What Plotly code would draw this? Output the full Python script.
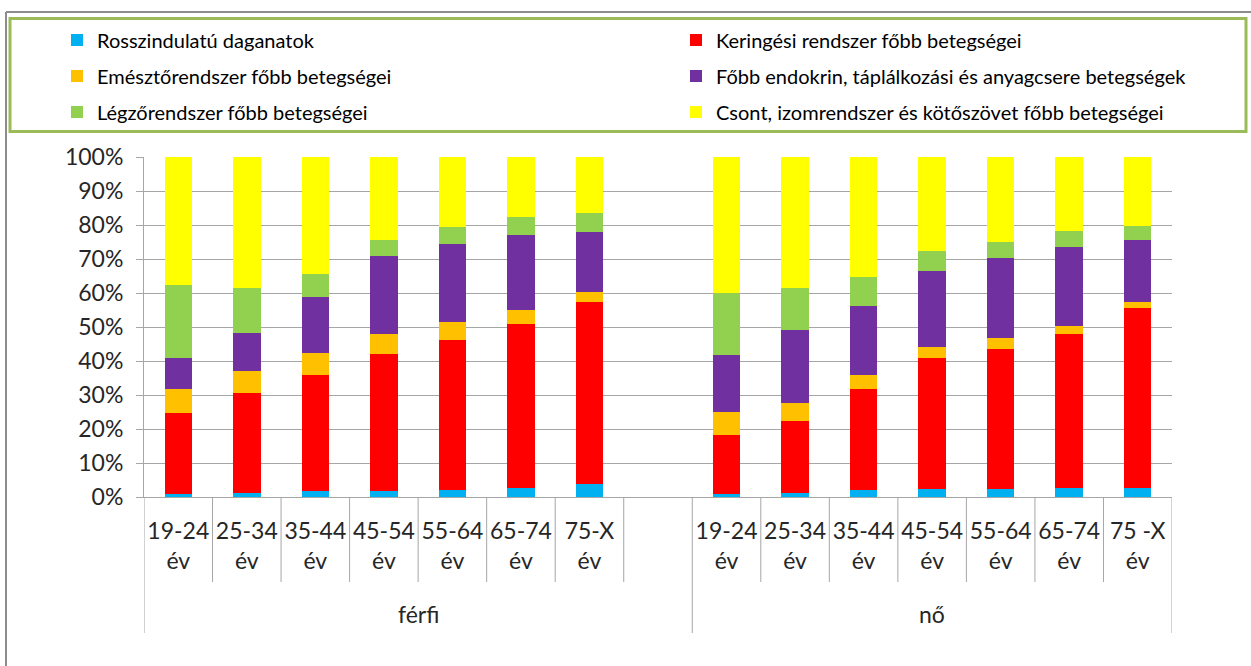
import plotly.graph_objects as go

# ---------------- data ----------------
age_labels_m = ["19-24<br>év", "25-34<br>év", "35-44<br>év", "45-54<br>év",
                "55-64<br>év", "65-74<br>év", "75-X<br>év"]
age_labels_f = ["19-24<br>év", "25-34<br>év", "35-44<br>év", "45-54<br>év",
                "55-64<br>év", "65-74<br>év", "75 -X<br>év"]
groups = ["férfi", "nő"]

series_names = [
    "Rosszindulatú daganatok",
    "Keringési rendszer főbb betegségei",
    "Emésztőrendszer főbb betegségei",
    "Főbb endokrin, táplálkozási és anyagcsere betegségek",
    "Légzőrendszer főbb betegségei",
    "Csont, izomrendszer és kötőszövet főbb betegségei",
]
series_colors = ["#00B0F0", "#FF0000", "#FFC000", "#7030A0", "#92D050", "#FFFF00"]

# percent shares, férfi (7 age groups)
men_daganat  = [0.8, 1.3, 1.7, 1.7, 2.0, 2.7, 3.9]
men_kering   = [23.8, 29.3, 34.2, 40.3, 44.1, 48.3, 53.4]
men_emeszto  = [7.1, 6.5, 6.4, 5.9, 5.3, 4.1, 3.1]
men_endokrin = [9.1, 11.2, 16.6, 23.0, 23.0, 21.9, 17.4]
men_legzo    = [21.5, 13.2, 6.8, 4.6, 4.9, 5.3, 5.7]
men_csont    = [37.7, 38.5, 34.3, 24.5, 20.7, 17.7, 16.5]

# percent shares, nő (7 age groups)
women_daganat  = [0.8, 1.3, 2.0, 2.3, 2.3, 2.7, 2.7]
women_kering   = [17.4, 21.0, 29.8, 38.5, 41.1, 45.2, 52.8]
women_emeszto  = [6.8, 5.3, 4.1, 3.3, 3.4, 2.3, 1.8]
women_endokrin = [16.9, 21.5, 20.4, 22.3, 23.4, 23.4, 18.2]
women_legzo    = [18.0, 12.4, 8.3, 6.1, 4.9, 4.6, 4.1]
women_csont    = [40.1, 38.5, 35.4, 27.5, 24.9, 21.8, 20.4]

y_tick_step = 10

# ---------------- layout helpers ----------------
W, H = 1251, 666
PL, PR, PT, PB = 144, 1172, 157, 497   # plot area in px


def px_x(p):
    return (p - PL) / (PR - PL)


def px_y(p):
    return (PB - p) / (PB - PT)


# category positions: 7 férfi + 1 empty slot + 7 nő
men_x = list(range(len(age_labels_m)))
gap_slot = len(age_labels_m)
women_x = [gap_slot + 1 + i for i in range(len(age_labels_f))]
tick_vals = men_x + [gap_slot] + women_x
tick_text = age_labels_m + [""] + age_labels_f

men_series = [men_daganat, men_kering, men_emeszto, men_endokrin, men_legzo, men_csont]
women_series = [women_daganat, women_kering, women_emeszto, women_endokrin, women_legzo, women_csont]

FONT = "Lato"
TXT = "#262626"
GRID = "#A6A6A6"

fig = go.Figure()
for k, name in enumerate(series_names):
    legend_id = "legend" if k % 2 == 0 else "legend2"
    fig.add_trace(go.Bar(
        x=men_x + women_x,
        y=men_series[k] + women_series[k],
        name=name,
        marker=dict(color=series_colors[k], line=dict(width=0)),
        width=0.4,
        legend=legend_id,
        legendgroup=name,
        hovertemplate="%{y:.1f}%<extra>" + name + "</extra>",
    ))

n_slots = len(tick_vals)
legend_common = dict(
    xanchor="left", yanchor="top",
    orientation="v", traceorder="grouped", tracegroupgap=7,
    font=dict(family=FONT, size=20, color="#000000"),
    bgcolor="rgba(0,0,0,0)", borderwidth=0,
)
fig.update_layout(
    width=W, height=H,
    barmode="stack",
    plot_bgcolor="white", paper_bgcolor="white",
    margin=dict(l=PL, r=W - PR, t=PT, b=H - PB, autoexpand=False),
    font=dict(family=FONT, color=TXT),
    xaxis=dict(
        range=[-0.5, n_slots - 0.5],
        tickmode="array", tickvals=tick_vals, ticktext=tick_text,
        ticks="", showgrid=False, zeroline=False,
        showline=True, linecolor=GRID, linewidth=1,
        tickfont=dict(family=FONT, size=23, color=TXT),
        ticklabelstandoff=13,
        fixedrange=True,
    ),
    yaxis=dict(
        range=[0, 100], tickmode="linear", tick0=0, dtick=y_tick_step,
        ticksuffix="%", showgrid=True, gridcolor=GRID, gridwidth=1,
        zeroline=False, showline=True, linecolor=GRID, linewidth=1,
        ticks="outside", ticklen=7, tickcolor=GRID,
        tickfont=dict(family=FONT, size=23, color=TXT),
        ticklabelstandoff=8,
        fixedrange=True,
    ),
    legend=dict(x=px_x(57), y=px_y(20.5), **legend_common),
    legend2=dict(x=px_x(676), y=px_y(20.5), **legend_common),
    showlegend=True,
)

shapes = []
# outer gray frame (top and left edges visible)
shapes.append(dict(type="line", xref="paper", yref="paper",
                   x0=px_x(6), x1=px_x(W + 5), y0=px_y(12), y1=px_y(12),
                   line=dict(color="#8C8C8C", width=2)))
shapes.append(dict(type="line", xref="paper", yref="paper",
                   x0=px_x(6), x1=px_x(6), y0=px_y(12), y1=px_y(H + 5),
                   line=dict(color="#8C8C8C", width=2)))
# green legend box
shapes.append(dict(type="rect", xref="paper", yref="paper",
                   x0=px_x(10), x1=px_x(1246), y0=px_y(18.5), y1=px_y(131.5),
                   line=dict(color="#9BBB59", width=3), fillcolor="rgba(0,0,0,0)"))
# category separators
long_bounds = {-0.5, gap_slot + 0.5, n_slots - 0.5}
for i in range(n_slots + 1):
    b = i - 0.5
    y_end = 633 if b in long_bounds else 582
    shapes.append(dict(type="line", xref="x", yref="paper",
                       x0=b, x1=b, y0=0, y1=px_y(y_end),
                       line=dict(color=GRID, width=1)))
fig.update_layout(shapes=shapes)

# group labels
fig.add_annotation(x=(men_x[0] + gap_slot) / 2, y=px_y(614), xref="x", yref="paper",
                   yanchor="middle", text=groups[0], showarrow=False,
                   font=dict(family=FONT, size=23, color=TXT))
fig.add_annotation(x=(women_x[0] + women_x[-1]) / 2, y=px_y(614), xref="x", yref="paper",
                   yanchor="middle", text=groups[1], showarrow=False,
                   font=dict(family=FONT, size=23, color=TXT))

fig.write_html("out.html",
               config={"displayModeBar": False},
               post_script="document.body.style.margin='0';document.body.style.overflow='hidden';")
